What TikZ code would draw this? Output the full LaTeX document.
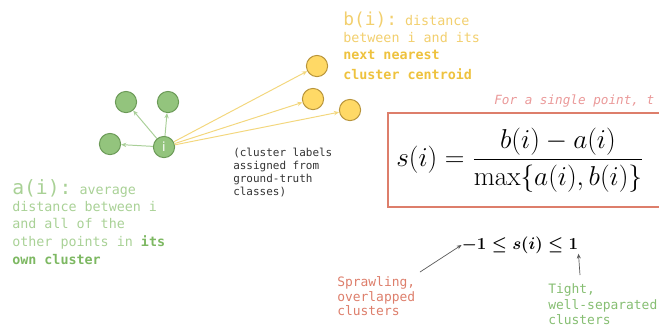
\RequirePackage{fix-cm}
\documentclass[tikz,border=0pt]{standalone}
\usepackage{amsmath}
\usepackage{fontspec}
\setmonofont{DejaVu Sans Mono}
\setsansfont{DejaVu Sans}
\usetikzlibrary{arrows.meta}
\definecolor{silgreenfill}{HTML}{93C47D}
\definecolor{silgreenedge}{HTML}{6B9A57}
\definecolor{silgreenline}{HTML}{A9CF98}
\definecolor{silyellowfill}{HTML}{FFD966}
\definecolor{silyellowedge}{HTML}{B8943A}
\definecolor{silyellowline}{HTML}{F3D77E}
\definecolor{aitext}{HTML}{A9D196}
\definecolor{aibold}{HTML}{7DB862}
\definecolor{bitext}{HTML}{F2CF6E}
\definecolor{bibold}{HTML}{EEC23E}
\definecolor{silred}{HTML}{DD7E6B}
\definecolor{silpink}{HTML}{EA9999}
\definecolor{siltight}{HTML}{86BE72}
\tikzset{
    silpoint/.style={draw, circle, minimum size=0.53cm, inner sep=0pt, line width=0.7pt},
    silgreen/.style={silpoint, fill=silgreenfill, draw=silgreenedge},
    silyellow/.style={silpoint, fill=silyellowfill, draw=silyellowedge},
    silgreenarrow/.style={draw=silgreenline, line width=0.7pt, -{Stealth[length=1.3mm, width=1.1mm]}},
    silyellowarrow/.style={draw=silyellowline, line width=0.7pt, -{Stealth[length=1.3mm, width=1.1mm]}},
    silpointer/.style={draw=black!65, line width=0.5pt, -{Stealth[length=1.2mm, width=1mm]}},
    silnote/.style={align=left, inner sep=0pt, anchor=north west, font=\ttfamily},
    silbox/.style={draw=silred, line width=2pt}
}

\begin{document}
\begin{tikzpicture}[x=0.025cm, y=0.025cm]
    \useasboundingbox (0,0) rectangle (659,-324);
    \clip (0,0) rectangle (659,-324);

    % points of the clusters
    \node[silgreen] (gone) at (126,-102) {};
    \node[silgreen] (gtwo) at (168,-102) {};
    \node[silgreen] (gthree) at (110,-144) {};
    \node[silgreen, font=\sffamily\small, text=white] (pti) at (164,-147) {i};
    \node[silyellow] (yone) at (317,-66) {};
    \node[silyellow] (ytwo) at (313,-99) {};
    \node[silyellow] (ythree) at (350,-110) {};

    \draw[silgreenarrow] (pti) -- (gone);
    \draw[silgreenarrow] (pti) -- (gtwo);
    \draw[silgreenarrow] (pti) -- (gthree);
    \draw[silyellowarrow] (pti) -- (yone);
    \draw[silyellowarrow] (pti) -- (ytwo);
    \draw[silyellowarrow] (pti) -- (ythree);

    % texts
    \node[silnote, text=aitext, font=\ttfamily\fontsize{9.5}{12.3}\selectfont] (atext) at (12,-179)
        {{\fontsize{14}{12.3}\selectfont a(i):} average\\
         distance between i\\
         and all of the\\
         other points in {\color{aibold}\bfseries its}\\[1pt]
         {\color{aibold}\bfseries own cluster}};
    \node[silnote, text=bitext, font=\ttfamily\fontsize{9.5}{11.8}\selectfont] (btext) at (343,-12)
        {{\fontsize{12.7}{11.8}\selectfont b(i):} distance\\
         between i and its\\
         {\color{bibold}\bfseries next nearest}\\[3pt]
         {\color{bibold}\bfseries cluster centroid}};
    \node[silnote, text=black!80, font=\ttfamily\fontsize{7.8}{9.1}\selectfont] (labels) at (233,-148)
        {(cluster labels\\ assigned from\\ ground-truth\\ classes)};

    % silhouette formula
    \node[anchor=base west, inner sep=0pt, text=silpink, font=\ttfamily\itshape\fontsize{9}{11}\selectfont] (single) at (494,-104)
        {For a single point, t};
    \draw[silbox] (388,-113) rectangle (720,-207);
    \node[anchor=west, inner sep=0pt, font=\fontsize{19.4}{23}\selectfont] (sformula) at (396,-160)
        {$s(i) = \dfrac{b(i) - a(i)}{\max\{a(i), b(i)\}}$};

    % range of s(i)
    \node[inner sep=0pt, font=\fontsize{12}{15}\selectfont\boldmath] (srange) at (520,-245)
        {$-1 \leq s(i) \leq 1$};
    \node[silnote, text=silred, font=\ttfamily\fontsize{9.2}{10.6}\selectfont] (sprawl) at (337,-276)
        {Sprawling,\\ overlapped\\ clusters};
    \node[silnote, text=siltight, font=\ttfamily\fontsize{9.2}{11.3}\selectfont] (tight) at (548,-283)
        {Tight,\\ well-separated\\ clusters};
    \coordinate (sprawltip) at (420,-272);
    \coordinate (tighttip) at (580,-275);

    \draw[silpointer] (sprawltip) -- (srange.west);
    \draw[silpointer] (tighttip) -- (srange.south east);
\end{tikzpicture}
\end{document}
